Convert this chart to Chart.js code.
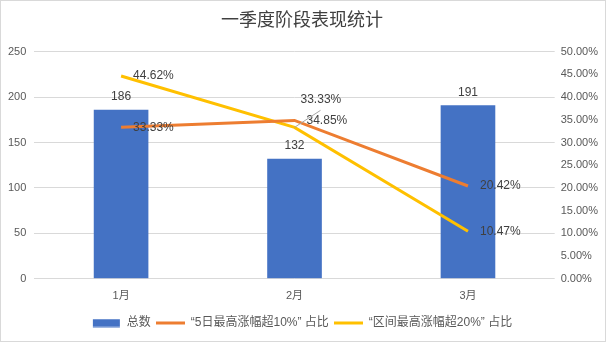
<!DOCTYPE html>
<html>
<head>
<meta charset="utf-8">
<script src="https://cdn.jsdelivr.net/npm/chart.js@4.4.1/dist/chart.umd.min.js"></script>
<style>
  body { margin: 0; background: #fff; }
  #wrap { position: relative; width: 606px; height: 342px; }
  #frame { position: absolute; left: 0; top: 0; width: 604px; height: 340px; border: 1px solid #d9d9d9; pointer-events: none; }
</style>
</head>
<body>
<div id="wrap">
  <canvas id="myChart" width="606" height="342"></canvas>
  <div id="frame"></div>
</div>
<script>
var months = ['1月', '2月', '3月'];
var totals = [186, 132, 191];
var ratio5d = [33.33, 34.85, 20.42];      // 5日最高涨幅超10% 占比, in %
var ratioRange = [44.62, 33.33, 10.47];   // 区间最高涨幅超20% 占比, in %
var countTicks = [0, 50, 100, 150, 200, 250];
var pctTicks = [0, 5, 10, 15, 20, 25, 30, 35, 40, 45, 50];

var BLUE = '#4472C4';
var ORANGE = '#ED7D31';
var YELLOW = '#FFC000';
var TEXT = '#595959';
var FONT = '"Liberation Sans", "Noto Sans CJK SC", sans-serif';

// little swatches for the legend
function swatch(color, w, h)
{
	var c = document.createElement('canvas');
	c.width = 29;
	c.height = 9;
	var g = c.getContext('2d');
	g.fillStyle = color;
	g.fillRect((29 - w) / 2, (9 - h) / 2, w, h);
	return c;
}

// value labels drawn over bars and line points
var valueLabels = {
	id: 'valueLabels',
	afterDatasetsDraw: function(chart) {
		var ctx = chart.ctx;
		ctx.save();
		ctx.font = '12px ' + FONT;
		ctx.fillStyle = '#404040';
		chart.data.datasets.forEach(function(ds, di) {
			var meta = chart.getDatasetMeta(di);
			meta.data.forEach(function(el, i) {
				var v = ds.data[i];
				if( ds.type === 'bar' )
				{
					ctx.textAlign = 'center';
					ctx.textBaseline = 'bottom';
					ctx.fillText(String(v), el.x, el.y - 7);
					return;
				}
				var txt = v.toFixed(2) + '%';
				ctx.textAlign = 'left';
				ctx.textBaseline = 'middle';
				if( ds.calloutIndex === i )
				{
					ctx.strokeStyle = '#a6a6a6';
					ctx.lineWidth = 1;
					ctx.beginPath();
					ctx.moveTo(el.x, el.y);
					ctx.lineTo(el.x + 26, el.y - 17);
					ctx.stroke();
					ctx.fillText(txt, el.x + 6, el.y - 28);
				}
				else
					ctx.fillText(txt, el.x + 12, el.y);
			});
		});
		ctx.restore();
	}
};

var ctx = document.getElementById('myChart');

var myChart = new Chart(ctx, {
	type: 'bar',
	data: {
		labels: months,
		datasets: [
			{
				type: 'bar',
				label: '总数',
				data: totals,
				backgroundColor: BLUE,
				yAxisID: 'y',
				barPercentage: 0.315,
				categoryPercentage: 1,
				order: 1,
				legendSwatch: swatch(BLUE, 27, 8)
			},
			{
				type: 'line',
				label: '“5日最高涨幅超10%” 占比',
				data: ratio5d,
				borderColor: ORANGE,
				backgroundColor: ORANGE,
				borderWidth: 3,
				pointRadius: 0,
				tension: 0,
				yAxisID: 'y1',
				order: 0,
				legendSwatch: swatch(ORANGE, 29, 3)
			},
			{
				type: 'line',
				label: '“区间最高涨幅超20%” 占比',
				data: ratioRange,
				borderColor: YELLOW,
				backgroundColor: YELLOW,
				borderWidth: 3,
				pointRadius: 0,
				tension: 0,
				yAxisID: 'y1',
				order: 0,
				calloutIndex: 1,
				legendSwatch: swatch(YELLOW, 29, 3)
			}
		]
	},
	options: {
		responsive: false,
		animation: false,
		devicePixelRatio: 1,
		layout: { padding: { left: 0, right: 2, top: 0, bottom: 3 } },
		plugins: {
			title: {
				display: true,
				text: '一季度阶段表现统计',
				color: '#404040',
				font: { size: 18, family: '"Noto Sans CJK SC", sans-serif', weight: 'normal' },
				padding: { top: 8, bottom: 22 }
			},
			legend: {
				position: 'bottom',
				labels: {
					color: TEXT,
					font: { size: 12, family: FONT },
					usePointStyle: true,
					boxWidth: 29,
					boxHeight: 9,
					pointStyleWidth: 29,
					padding: 5,
					generateLabels: function(chart) {
						return chart.data.datasets.map(function(ds, i) {
							return {
								text: ds.label,
								pointStyle: ds.legendSwatch,
								fontColor: TEXT,
								datasetIndex: i,
								hidden: false
							};
						});
					}
				}
			},
			tooltip: { enabled: false }
		},
		scales: {
			x: {
				grid: { display: false },
				border: { display: false },
				ticks: { color: TEXT, font: { size: 11, family: FONT }, padding: 3 },
				// leave some room between the month labels and the legend
				afterFit: function(axis) { axis.height += 6; }
			},
			y: {
				position: 'left',
				min: 0,
				max: 250,
				afterBuildTicks: function(axis) {
					axis.ticks = countTicks.map(function(v) { return { value: v }; });
				},
				grid: { color: '#d9d9d9', drawTicks: false },
				border: { display: false },
				ticks: { color: TEXT, font: { size: 11, family: FONT }, padding: 8 }
			},
			y1: {
				position: 'right',
				min: 0,
				max: 50,
				afterBuildTicks: function(axis) {
					axis.ticks = pctTicks.map(function(v) { return { value: v }; });
				},
				grid: { drawOnChartArea: false, drawTicks: false },
				border: { display: false },
				ticks: {
					color: TEXT,
					font: { size: 11, family: FONT },
					padding: 6,
					callback: function(v) { return v.toFixed(2) + '%'; }
				}
			}
		}
	},
	plugins: [valueLabels]
});
</script>
</body>
</html>
